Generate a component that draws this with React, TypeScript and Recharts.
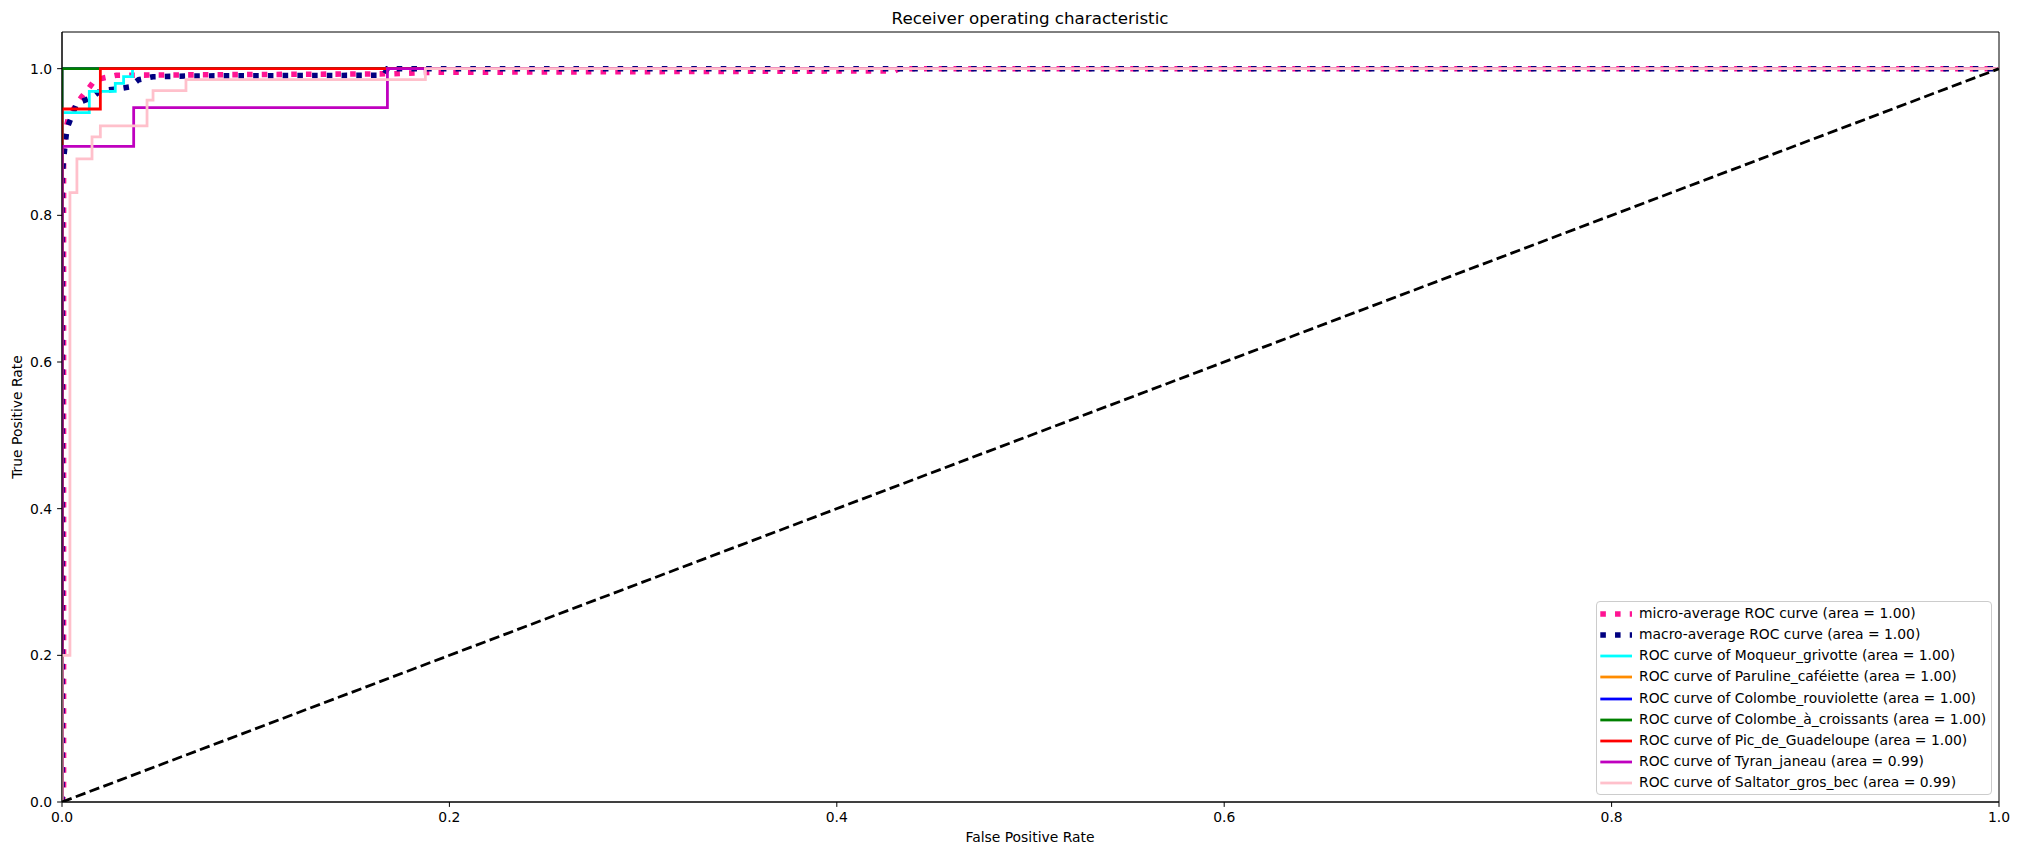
import React from "react";
import {
  LineChart, Line, XAxis, YAxis, ReferenceArea
} from "recharts";

// ROC points: [fpr, tpr]
const microAvg: number[][] = [
  [0, 0], [0.0008, 0.01], [0.0008, 0.9], [0.0034, 0.935], [0.01, 0.961],
  [0.0137, 0.973], [0.0168, 0.984], [0.0224, 0.988], [0.028, 0.991],
  [0.17, 0.993], [0.19, 0.995], [0.43, 0.997], [0.432, 1], [1, 1],
];
const macroAvg: number[][] = [
  [0, 0], [0, 0.854], [0.0017, 0.899], [0.0026, 0.919], [0.0077, 0.953],
  [0.0151, 0.96], [0.0198, 0.97], [0.0275, 0.972], [0.0347, 0.975],
  [0.0396, 0.985], [0.047, 0.989], [0.065, 0.99], [0.166, 0.991],
  [0.168, 1], [1, 1],
];
const moqueur: number[][] = [
  [0, 0], [0, 0.94], [0.0141, 0.94], [0.0141, 0.969], [0.0275, 0.969],
  [0.0275, 0.98], [0.0318, 0.98], [0.0318, 0.989], [0.0364, 0.989],
  [0.0364, 1], [1, 1],
];
const paruline: number[][] = [[0, 0], [0, 1], [1, 1]];
const rouviolette: number[][] = [[0, 0], [0, 1], [1, 1]];
const croissants: number[][] = [[0, 0], [0, 1], [1, 1]];
const picGuadeloupe: number[][] = [
  [0, 0], [0, 0.945], [0.0198, 0.945], [0.0198, 1], [1, 1],
];
const tyranJaneau: number[][] = [
  [0, 0], [0, 0.894], [0.037, 0.894], [0.037, 0.947], [0.168, 0.947],
  [0.168, 1], [1, 1],
];
const saltator: number[][] = [
  [0, 0], [0, 0.2], [0.0041, 0.2], [0.0041, 0.831], [0.0077, 0.831],
  [0.0077, 0.877], [0.0155, 0.877], [0.0155, 0.907], [0.0198, 0.907],
  [0.0198, 0.922], [0.0439, 0.922], [0.0439, 0.957], [0.047, 0.957],
  [0.047, 0.97], [0.064, 0.97], [0.064, 0.985], [0.1876, 0.985],
  [0.1876, 1], [1, 1],
];
const chance: number[][] = [[0, 0], [1, 1]];

const xTicks = [0, 0.2, 0.4, 0.6, 0.8, 1.0];
const yTicks = [0, 0.2, 0.4, 0.6, 0.8, 1.0];

const series = [
  { name: "micro-average ROC curve (area = 1.00)", pts: microAvg, color: "#ff1493", dotted: true },
  { name: "macro-average ROC curve (area = 1.00)", pts: macroAvg, color: "#000080", dotted: true },
  { name: "ROC curve of Moqueur_grivotte (area = 1.00)", pts: moqueur, color: "#00ffff" },
  { name: "ROC curve of Paruline_caféiette (area = 1.00)", pts: paruline, color: "#ff8c00" },
  { name: "ROC curve of Colombe_rouviolette (area = 1.00)", pts: rouviolette, color: "#0000ff" },
  { name: "ROC curve of Colombe_à_croissants (area = 1.00)", pts: croissants, color: "#008000" },
  { name: "ROC curve of Pic_de_Guadeloupe (area = 1.00)", pts: picGuadeloupe, color: "#ff0000" },
  { name: "ROC curve of Tyran_janeau (area = 0.99)", pts: tyranJaneau, color: "#bf00bf" },
  { name: "ROC curve of Saltator_gros_bec (area = 0.99)", pts: saltator, color: "#ffc0cb" },
];

const FONT = "'DejaVu Sans', sans-serif";
const toRows = (pts: number[][]) => pts.map(([x, y]) => ({ x, y }));

export default function App() {
  const tickStyle = { fill: "#000", fontSize: 13.9, fontFamily: FONT };
  return (
    <div style={{ position: "absolute", left: 0, top: 0, width: 2019, height: 855, background: "#fff", fontFamily: FONT }}>
      <LineChart width={2019} height={855} margin={{ top: 32, right: 20, bottom: 23, left: 2 }}>
        <XAxis
          dataKey="x" type="number" domain={[0, 1]} ticks={xTicks} allowDataOverflow
          tickFormatter={(v: number) => v.toFixed(1)} tick={tickStyle}
          tickSize={4.9} tickMargin={4.9} height={30}
          stroke="#000" tickLine={{ stroke: "#000" }} axisLine={{ stroke: "#000" }}
        />
        <YAxis
          dataKey="y" type="number" domain={[0, 1.05]} ticks={yTicks} allowDataOverflow
          tickFormatter={(v: number) => v.toFixed(1)} tick={tickStyle}
          tickSize={4.9} tickMargin={4.9} width={60}
          stroke="#000" tickLine={{ stroke: "#000" }} axisLine={{ stroke: "#000" }}
        />
        <ReferenceArea x1={0} x2={1} y1={0} y2={1.05} fill="none" fillOpacity={0} stroke="#000" strokeWidth={1} />
        {series.map((s) => (
          <Line
            key={s.name} data={toRows(s.pts)} dataKey="y" type="linear"
            stroke={s.color} strokeWidth={s.dotted ? 5.56 : 2.78}
            strokeDasharray={s.dotted ? "5.56 9.17" : undefined}
            dot={false} activeDot={false} isAnimationActive={false}
          />
        ))}
        <Line
          data={toRows(chance)} dataKey="y" type="linear" stroke="#000"
          strokeWidth={2.78} strokeDasharray="10.3 4.45"
          dot={false} activeDot={false} isAnimationActive={false}
        />
      </LineChart>

      <div style={{ position: "absolute", left: 1030, top: 18, transform: "translate(-50%,-50%)", fontSize: 16.7, whiteSpace: "nowrap" }}>
        Receiver operating characteristic
      </div>
      <div style={{ position: "absolute", left: 1030, top: 837, transform: "translate(-50%,-50%)", fontSize: 13.9, whiteSpace: "nowrap" }}>
        False Positive Rate
      </div>
      <div style={{ position: "absolute", left: 17, top: 417, transform: "translate(-50%,-50%) rotate(-90deg)", fontSize: 13.9, whiteSpace: "nowrap" }}>
        True Positive Rate
      </div>

      <div style={{
        position: "absolute", left: 1596, top: 601, width: 396, height: 194,
        border: "1px solid #cccccc", borderRadius: 4, background: "rgba(255,255,255,0.8)", boxSizing: "border-box",
      }}>
        {series.map((s, i) => (
          <div key={s.name} style={{ position: "absolute", left: 0, top: 11.7 + i * 21.2, height: 0 }}>
            <svg width={40} height={8} style={{ position: "absolute", left: 2, top: -4 }}>
              <line
                x1={1.3} y1={4} x2={33} y2={4} stroke={s.color}
                strokeWidth={s.dotted ? 5.56 : 2.78}
                strokeDasharray={s.dotted ? "5.56 9.17" : undefined}
              />
            </svg>
            <div style={{ position: "absolute", left: 42, top: 0, transform: "translateY(-50%)", fontSize: 13.9, whiteSpace: "nowrap", lineHeight: 1 }}>
              {s.name}
            </div>
          </div>
        ))}
      </div>
    </div>
  );
}
